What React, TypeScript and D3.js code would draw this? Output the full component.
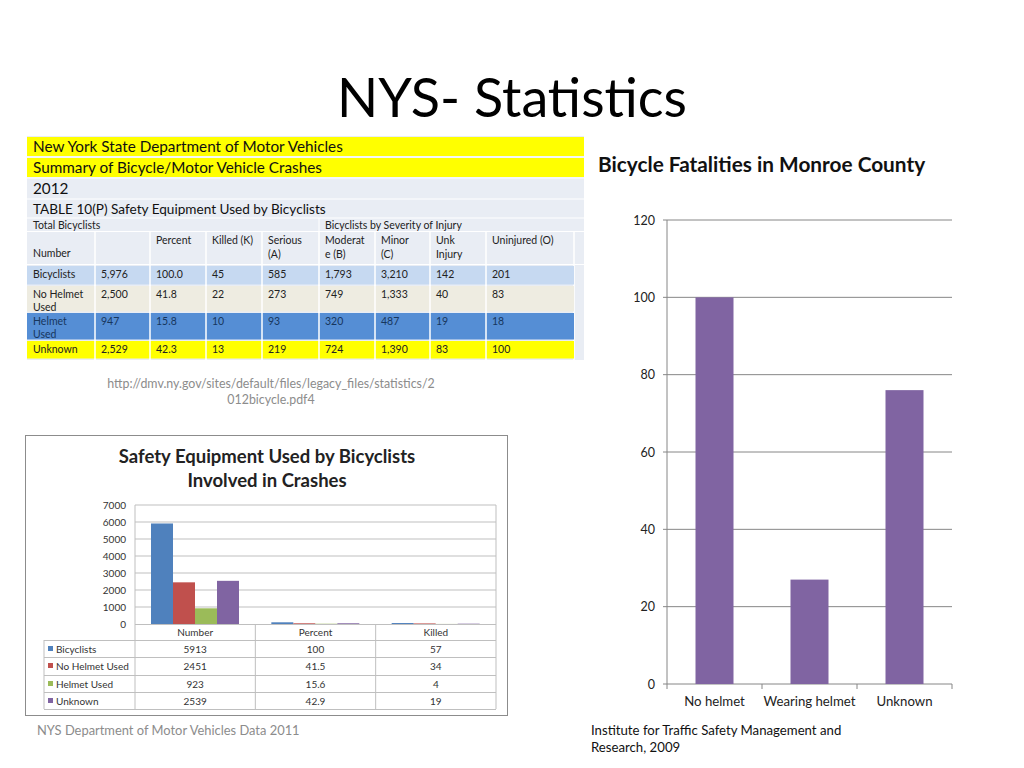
import * as d3 from "d3";

// ---- NYS DMV table (2012) ----
const tableHeaderCols = ["", "", "Percent", "Killed (K)", "Serious|(A)", "Moderat|e (B)", "Minor|(C)", "Unk|Injury", "Uninjured (O)", ""];
const tableRowLabels = ["Bicyclists", "No Helmet|Used", "Helmet|Used", "Unknown"];
const tableNumber = ["5,976", "2,500", "947", "2,529"];
const tablePercent = ["100.0", "41.8", "15.8", "42.3"];
const tableKilled = ["45", "22", "10", "13"];
const tableSerious = ["585", "273", "93", "219"];
const tableModerate = ["1,793", "749", "320", "724"];
const tableMinor = ["3,210", "1,333", "487", "1,390"];
const tableUnk = ["142", "40", "19", "83"];
const tableUninjured = ["201", "83", "18", "100"];

// ---- small clustered chart (2011) ----
const crashGroups = ["Number", "Percent", "Killed"];
const crashSeries = ["Bicyclists", "No Helmet Used", "Helmet Used", "Unknown"];
const crashBicyclists = [5913, 100, 57];
const crashNoHelmet = [2451, 41.5, 34];
const crashHelmet = [923, 15.6, 4];
const crashUnknown = [2539, 42.9, 19];
const crashTicks = [0, 1000, 2000, 3000, 4000, 5000, 6000, 7000];

// ---- Monroe County chart ----
const monroeCats = ["No helmet", "Wearing helmet", "Unknown"];
const monroeValues = [100, 27, 76];
const monroeTicks = [0, 20, 40, 60, 80, 100, 120];

const FONT = "Lato, 'Open Sans', sans-serif";
const seriesColors = ["#4f81bd", "#c0504d", "#9bbb59", "#8064a2"];

function DmvTable() {
  const colX = [27, 95, 150, 206, 262, 319, 375, 430, 486, 574, 584];
  const rowY = [266, 286, 313, 341, 360];
  const rowFill = ["#c6d9f1", "#eeece1", "#558ed5", "#ffff00"];
  const rowText = ["#222", "#222", "#17365d", "#222"];
  const cols = [tableNumber, tablePercent, tableKilled, tableSerious, tableModerate, tableMinor, tableUnk, tableUninjured];
  const small = 10.5;
  return (
    <g fontFamily={FONT}>
      <rect x={27} y={136} width={557} height={224} fill="#e9edf4" />
      <rect x={27} y={137} width={557} height={19} fill="#ffff00" />
      <rect x={27} y={158} width={557} height={19} fill="#ffff00" />
      <line x1={27} x2={584} y1={157} y2={157} stroke="#fff" />
      <line x1={27} x2={584} y1={178} y2={178} stroke="#fff" />
      <line x1={27} x2={584} y1={199} y2={199} stroke="#fff" />
      <line x1={27} x2={584} y1={218} y2={218} stroke="#fff" />
      <line x1={27} x2={584} y1={231.5} y2={231.5} stroke="#fff" />
      <line x1={27} x2={584} y1={264.5} y2={264.5} stroke="#fff" />
      <text x={33} y={152} fontSize={15.3} fill="#111">New York State Department of Motor Vehicles</text>
      <text x={33} y={173} fontSize={15.3} fill="#111">Summary of Bicycle/Motor Vehicle Crashes</text>
      <text x={33} y={194} fontSize={15.3} fill="#111">2012</text>
      <text x={33} y={214} fontSize={13.6} fill="#111">TABLE 10(P) Safety Equipment Used by Bicyclists</text>
      <line x1={319} x2={319} y1={218} y2={232} stroke="#fff" />
      <text x={33} y={229} fontSize={small} fill="#222">Total Bicyclists</text>
      <text x={325} y={229} fontSize={small} fill="#222">Bicyclists by Severity of Injury</text>
      {colX.slice(1, -1).map((x) => (
        <line key={x} x1={x} x2={x} y1={232} y2={360} stroke="#fff" strokeWidth={1.5} />
      ))}
      <text x={33} y={257} fontSize={small} fill="#222">Number</text>
      {tableHeaderCols.map((h, i) =>
        h.split("|").map((part, j) => (
          <text key={`${i}-${j}`} x={colX[i] + 6} y={244 + j * 14} fontSize={small} fill="#222">{part}</text>
        ))
      )}
      {rowFill.map((f, r) => (
        <g key={r}>
          <rect x={27} y={rowY[r]} width={547} height={rowY[r + 1] - rowY[r] - 1.5} fill={f} />
          {colX.slice(1, -2).map((x) => (
            <line key={x} x1={x} x2={x} y1={rowY[r]} y2={rowY[r + 1]} stroke="#fff" strokeWidth={1.5} />
          ))}
          {tableRowLabels[r].split("|").map((part, j) => (
            <text key={j} x={33} y={rowY[r] + 11.5 + j * 13} fontSize={small} fill={rowText[r]}>{part}</text>
          ))}
          {cols.map((c, ci) => (
            <text key={ci} x={colX[ci + 1] + 6} y={rowY[r] + 11.5} fontSize={small} fill={rowText[r]}>{c[r]}</text>
          ))}
        </g>
      ))}
      <text x={271} y={388} fontSize={12.4} fill="#8c8c8c" textAnchor="middle">
        http://dmv.ny.gov/sites/default/files/legacy_files/statistics/2
      </text>
      <text x={271} y={404} fontSize={12.4} fill="#8c8c8c" textAnchor="middle">012bicycle.pdf4</text>
    </g>
  );
}

function CrashChart() {
  const left = 135, right = 496, top = 505, bottom = 624;
  const y = d3.scaleLinear().domain([0, 7000]).range([bottom, top]);
  const x0 = d3.scaleBand<string>().domain(crashGroups).range([left, right]);
  const x1 = d3.scaleBand<string>().domain(crashSeries).range([16, 104]);
  const series = [crashBicyclists, crashNoHelmet, crashHelmet, crashUnknown];
  const rowTops = [624, 640, 657, 675, 692, 709];
  return (
    <g fontFamily={FONT}>
      <rect x={25.5} y={435.5} width={482} height={280} fill="#fff" stroke="#8c8c8c" />
      <text x={267} y={463} fontSize={18.5} fontWeight="bold" textAnchor="middle" fill="#222">
        Safety Equipment Used by Bicyclists
      </text>
      <text x={267} y={487} fontSize={18.5} fontWeight="bold" textAnchor="middle" fill="#222">Involved in Crashes</text>
      {crashTicks.map((t) => (
        <g key={t}>
          {t > 0 && <line x1={left} x2={right} y1={y(t)} y2={y(t)} stroke="#bfbfbf" />}
          <text x={126} y={y(t) + 3.5} fontSize={10} textAnchor="end" fill="#333">{t}</text>
        </g>
      ))}
      <line x1={left} x2={left} y1={top} y2={bottom} stroke="#bfbfbf" />
      {crashGroups.map((g, gi) =>
        series.map((s, si) => (
          <rect
            key={`${g}-${si}`}
            x={(x0(g) ?? 0) + (x1(crashSeries[si]) ?? 0)}
            y={y(s[gi])}
            width={x1.bandwidth()}
            height={bottom - y(s[gi])}
            fill={seriesColors[si]}
          />
        ))
      )}
      {/* data table */}
      {rowTops.map((ry, i) => (
        <line key={ry} x1={i === 0 ? left : 44} x2={right} y1={ry + 0.5} y2={ry + 0.5} stroke="#bfbfbf" />
      ))}
      <line x1={44} x2={44} y1={640} y2={709} stroke="#bfbfbf" />
      {crashGroups.map((g) => (
        <line key={g} x1={(x0(g) ?? 0)} x2={(x0(g) ?? 0)} y1={624} y2={709} stroke="#bfbfbf" />
      ))}
      <line x1={right} x2={right} y1={top} y2={709} stroke="#bfbfbf" />
      {crashGroups.map((g) => (
        <text key={g} x={(x0(g) ?? 0) + x0.bandwidth() / 2} y={636} fontSize={10} textAnchor="middle" fill="#333">{g}</text>
      ))}
      {crashSeries.map((name, si) => (
        <g key={name}>
          <rect x={48} y={rowTops[si + 1] + 6} width={5} height={5} fill={seriesColors[si]} />
          <text x={56} y={rowTops[si + 1] + 12.5} fontSize={10} fill="#333">{name}</text>
          {crashGroups.map((g, gi) => (
            <text key={g} x={(x0(g) ?? 0) + x0.bandwidth() / 2} y={rowTops[si + 1] + 12.5} fontSize={10} textAnchor="middle" fill="#333">
              {series[si][gi]}
            </text>
          ))}
        </g>
      ))}
    </g>
  );
}

function MonroeChart() {
  const left = 667, right = 952, top = 220, bottom = 684;
  const y = d3.scaleLinear().domain([0, 120]).range([bottom, top]);
  const x = d3.scaleBand<string>().domain(monroeCats).range([left, right]).paddingInner(0.6).paddingOuter(0.3);
  const band = d3.scaleBand<string>().domain(monroeCats).range([left, right]);
  return (
    <g fontFamily={FONT}>
      <text x={598} y={172} fontSize={20.8} fontWeight="bold" fill="#111">Bicycle Fatalities in Monroe County</text>
      {monroeTicks.map((t) => (
        <g key={t}>
          <line x1={left - 4} x2={right} y1={y(t)} y2={y(t)} stroke="#868686" />
          <text x={655} y={y(t) + 4.5} fontSize={12.5} textAnchor="end" fill="#222">{t}</text>
        </g>
      ))}
      <line x1={left} x2={left} y1={top} y2={bottom + 5} stroke="#868686" />
      {monroeCats.map((c) => (
        <line key={c} x1={(band(c) ?? 0) + band.bandwidth()} x2={(band(c) ?? 0) + band.bandwidth()} y1={bottom} y2={bottom + 5} stroke="#868686" />
      ))}
      {monroeCats.map((c, i) => (
        <rect key={c} x={x(c)} y={y(monroeValues[i])} width={x.bandwidth()} height={bottom - y(monroeValues[i])} fill="#8064a2" />
      ))}
      {monroeCats.map((c) => (
        <text key={c} x={(band(c) ?? 0) + band.bandwidth() / 2} y={706} fontSize={13.2} textAnchor="middle" fill="#222">{c}</text>
      ))}
    </g>
  );
}

export default function App() {
  return (
    <svg width={1024} height={768} style={{ display: "block", margin: -8 }} fontFamily={FONT}>
      <rect width={1024} height={768} fill="#fff" />
      <text x={512} y={117} fontSize={54} textAnchor="middle" fill="#000">NYS- Statistics</text>
      <DmvTable />
      <CrashChart />
      <MonroeChart />
      <text x={37} y={735} fontSize={12.9} fill="#8c8c8c">NYS Department of Motor Vehicles Data 2011</text>
      <text x={591} y={735} fontSize={13.2} fill="#111">Institute for Traffic Safety Management and</text>
      <text x={591} y={752} fontSize={13.2} fill="#111">Research, 2009</text>
    </svg>
  );
}
